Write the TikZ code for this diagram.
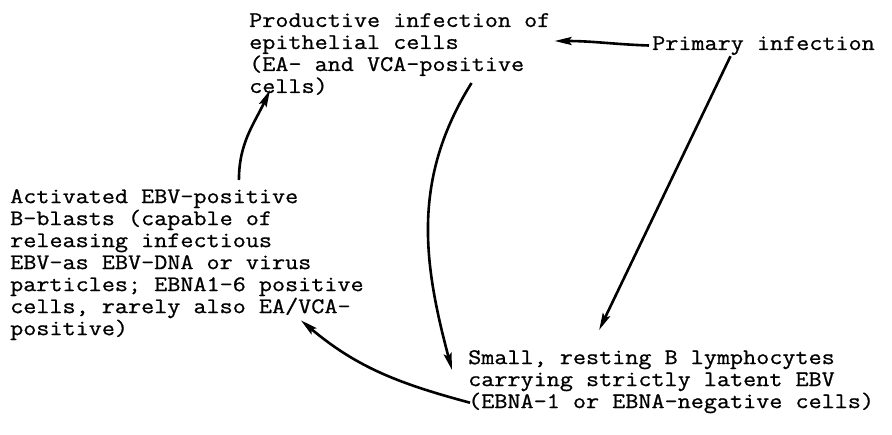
\documentclass[tikz,border=0pt]{standalone}
\usepackage{fontspec}
\setmonofont[FakeStretch=1.14,FakeBold=0.8]{Latin Modern Mono}
\usetikzlibrary{arrows.meta}
\begin{document}
\begin{tikzpicture}[x=1pt,y=1pt,
  label/.style={anchor=north west,inner sep=0pt,align=left,
    font=\ttfamily\fontsize{22.3}{22}\selectfont},
  arr/.style={line width=2.6pt,-{Stealth[length=17pt,width=8pt,inset=3pt]}}]
\useasboundingbox (0,0) rectangle (892,434);
% stages of the infection cycle
\node[label] (prod) at (249,421) {Productive infection of\\epithelial cells\\(EA- and VCA-positive\\cells)};
\node[label] (prim) at (652,398) {Primary infection};
\node[label] (blasts) at (10,245) {Activated EBV-positive\\B-blasts (capable of\\releasing infectious\\EBV-as EBV-DNA or virus\\particles; EBNA1-6 positive\\cells, rarely also EA/VCA-\\positive)};
\node[label] (small) at (468,84) {Small, resting B lymphocytes\\carrying strictly latent EBV\\(EBNA-1 or EBNA-negative cells)};
% transitions
\draw[arr,shorten <=3pt] (prim.west) to[out=178,in=0] ([shift={(4pt,13pt)}]prod.east);
\draw[arr] ([shift={(-33pt,-1pt)}]prim.south) -- ([shift={(-72pt,20pt)}]small.north);
\draw[arr] ([shift={(-79pt,12pt)}]prod.south east) to[out=-122,in=105] ([shift={(-16pt,-20pt)}]small.north west);
\draw[arr] ([shift={(2pt,-21pt)}]small.west) to[out=165,in=-40] ([shift={(-63pt,20pt)}]blasts.south east);
\draw[arr] ([shift={(52pt,9pt)}]blasts.north) to[out=90,in=-115] ([shift={(21pt,5pt)}]prod.south west);
\end{tikzpicture}
\end{document}
